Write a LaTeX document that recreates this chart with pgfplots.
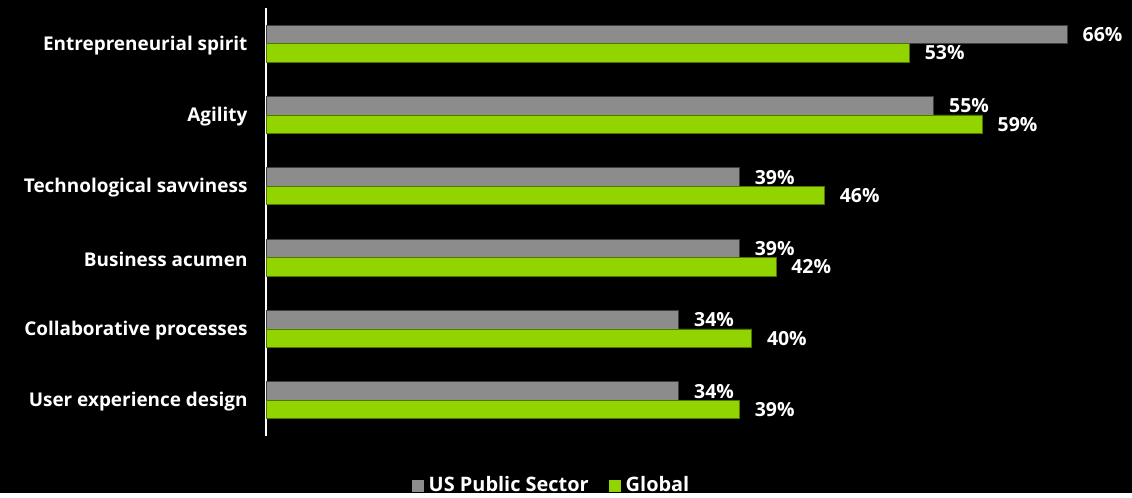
\documentclass[border=0pt]{standalone}
\usepackage{pgfplots}
\pgfplotsset{compat=1.18}
\usepackage{fontspec}
\setmainfont{Open Sans}
\definecolor{usgray}{HTML}{8C8C8C}
\definecolor{glgreen}{HTML}{92D400}
\begin{document}
\begin{tikzpicture}[x=1bp,y=1bp]
\fill[black] (0,0) rectangle (1132,493);
\begin{axis}[
  at={(266bp,57bp)}, anchor=south west, scale only axis,
  width=866bp, height=428bp,
  xmin=0, xmax=71.33, ymin=-0.5, ymax=5.5,
  xbar, bar width=18.5bp,
  hide x axis,
  axis y line*=left,
  y axis line style={white, line width=1.5bp},
  ytick={0,1,2,3,4,5},
  yticklabels={User experience design, Collaborative processes, Business acumen, Technological savviness, Agility, Entrepreneurial spirit},
  major tick length=0pt,
  yticklabel style={font=\bfseries\fontsize{19}{22}\selectfont, text=white, xshift=-15bp, yshift=-1.5bp},
  point meta=x,
  /pgf/number format/assume math mode=true,
  nodes near coords={\pgfmathprintnumber{\pgfplotspointmeta}\%},
  nodes near coords style={white, font=\bfseries\fontsize{19.5}{22}\selectfont, anchor=west, inner sep=0pt, xshift=15bp},
  clip=false,
  legend style={at={(0.3297,-0.1145)}, anchor=center, draw=none, fill=none, text=white,
    font=\bfseries\fontsize{20}{22}\selectfont, legend columns=2,
    /tikz/every odd column/.append style={column sep=3bp},
    /tikz/every even column/.append style={column sep=18bp}},
  legend image code/.code={\fill[#1, draw=none] (0bp,-7bp) rectangle (12bp,5bp);},
]
\addplot[fill=usgray, draw=usgray!45!black, line width=0.8bp, bar shift=9.25bp] coordinates {
  (66,5) (55,4) (39,3) (39,2) (34,1) (34,0)};
\addplot[fill=glgreen, draw=glgreen!55!black, line width=0.8bp, bar shift=-9.25bp] coordinates {
  (53,5) (59,4) (46,3) (42,2) (40,1) (39,0)};
\legend{US Public Sector, Global}
\end{axis}
\end{tikzpicture}
\end{document}
